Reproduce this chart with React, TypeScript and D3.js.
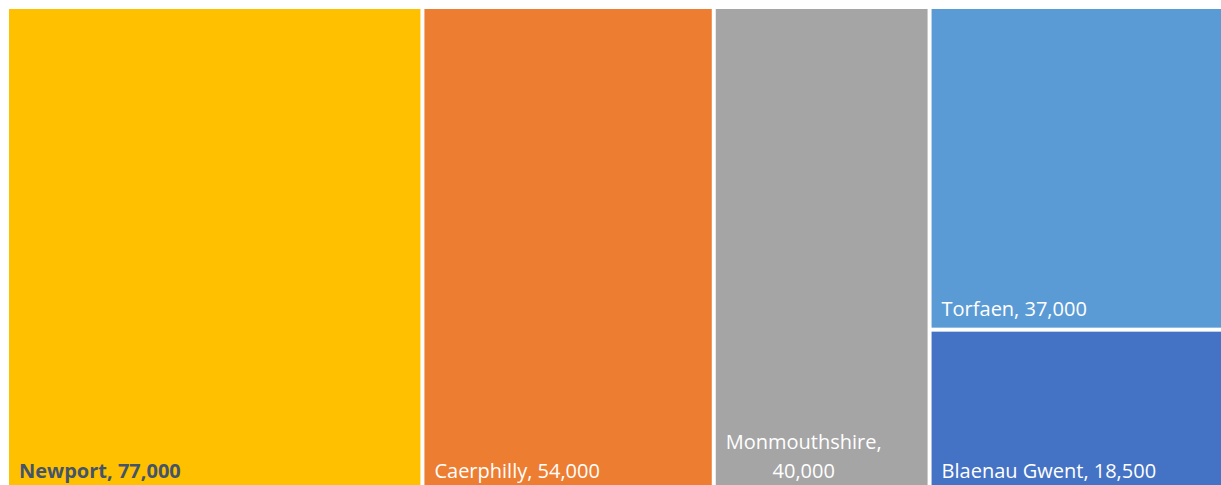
import { useMemo } from "react";
import * as d3 from "d3";

// areas and their values
const areas = ["Newport", "Caerphilly", "Monmouthshire", "Torfaen", "Blaenau Gwent"];
const values = [77000, 54000, 40000, 37000, 18500];
// Torfaen and Blaenau Gwent share one column
const groupOf = ["", "", "", "east", "east"];
const colors = ["#FFC000", "#ED7D31", "#A5A5A5", "#5B9BD5", "#4472C4"];
const labelColors = ["#44546A", "#ffffff", "#ffffff", "#ffffff", "#ffffff"];
const labelWeights = [700, 400, 400, 400, 400];

const FONT = "'Open Sans', 'Noto Sans', sans-serif";
const FONT_SIZE = 20;
const fmt = d3.format(",");

const canvas = typeof document !== "undefined" ? document.createElement("canvas") : null;
const measure = (txt: string, weight: number) => {
  const ctx = canvas?.getContext("2d");
  if (!ctx) return txt.length * FONT_SIZE * 0.55;
  ctx.font = `${weight} ${FONT_SIZE}px ${FONT}`;
  return ctx.measureText(txt).width;
};

type Leaf = { name: string; value?: number; i?: number; children?: Leaf[] };

export default function App() {
  const width = 1218;
  const height = 480;
  const ox = 9; // where the plot starts on the page
  const oy = 9;

  const leaves = useMemo(() => {
    const kids: Leaf[] = [];
    areas.forEach((name, i) => {
      const g = groupOf[i];
      if (!g) {
        kids.push({ name, value: values[i], i });
      } else {
        let node = kids.find((k) => k.name === g);
        if (!node) {
          node = { name: g, children: [] };
          kids.push(node);
        }
        node.children!.push({ name, value: values[i], i });
      }
    });
    const root = d3
      .hierarchy<Leaf>({ name: "root", children: kids })
      .sum((d) => (d.children ? 0 : d.value ?? 0));
    d3.treemap<Leaf>()
      .tile(d3.treemapSliceDice)
      .size([width, height])
      .paddingInner(4)
      .round(false)(root);
    return root.leaves() as d3.HierarchyRectangularNode<Leaf>[];
  }, []);

  return (
    <div style={{ position: "fixed", left: 0, top: 0, width: 1221, height: 485, overflow: "hidden", background: "#fff" }}>
      <svg width={1221} height={485} style={{ display: "block" }}>
        <g transform={`translate(${ox},${oy})`}>
          {leaves.map((d) => {
            const i = d.data.i!;
            const w = d.x1 - d.x0;
            const label = `${d.data.name}, ${fmt(d.data.value!)}`;
            const weight = labelWeights[i];
            const avail = w - 20;
            let lines = [label];
            if (measure(label, weight) > avail) {
              lines = [`${d.data.name},`, fmt(d.data.value!)];
            }
            const widths = lines.map((l) => measure(l, weight));
            const blockW = Math.max(...widths);
            const lineH = 28.5;
            const base = d.y1 - 11.5;
            return (
              <g key={d.data.name}>
                <rect x={d.x0} y={d.y0} width={w} height={d.y1 - d.y0} fill={colors[i]} />
                {lines.map((l, j) => (
                  <text
                    key={j}
                    x={lines.length > 1 ? d.x0 + 10 + blockW / 2 : d.x0 + 10}
                    y={base - (lines.length - 1 - j) * lineH}
                    textAnchor={lines.length > 1 ? "middle" : "start"}
                    fill={labelColors[i]}
                    fontFamily={FONT}
                    fontSize={FONT_SIZE}
                    fontWeight={weight}
                  >
                    {l}
                  </text>
                ))}
              </g>
            );
          })}
        </g>
      </svg>
    </div>
  );
}
